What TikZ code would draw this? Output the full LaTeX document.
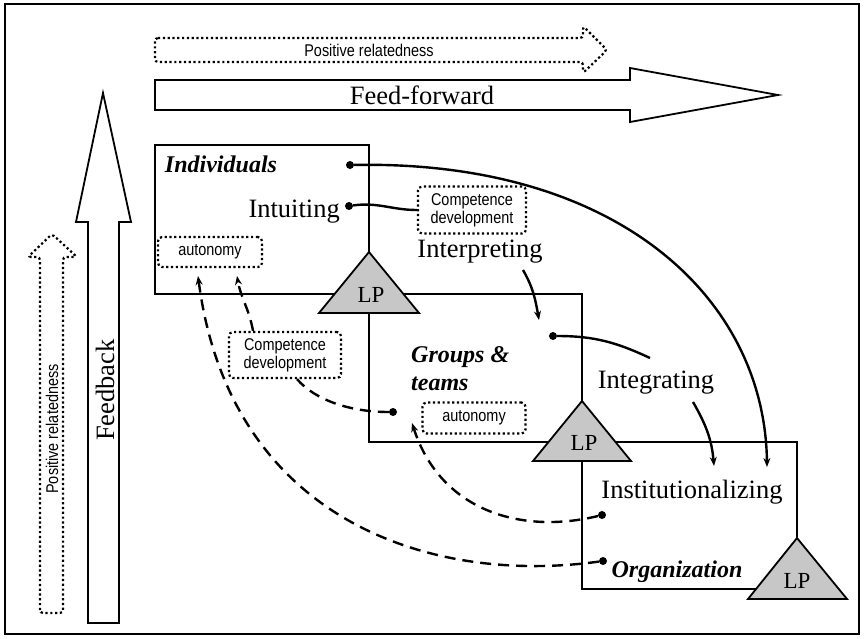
\documentclass[tikz,border=0pt]{standalone}
\usepackage{fontspec}
\setmainfont{Liberation Serif}
\setsansfont{Liberation Sans}
\newfontfamily\narrowsans[FakeStretch=0.85]{Liberation Sans}
\usetikzlibrary{arrows.meta}

\tikzset{
    lvlbox/.style={draw, line width=1.8pt},
    lptri/.style={draw, line width=1.8pt, fill=black!22, line join=miter},
    bigarrow/.style={draw, line width=1.8pt, line join=miter},
    dotarrow/.style={draw, line width=2.2pt, dash pattern=on 2.2pt off 2.6pt, rounded corners=3pt},
    dotbox/.style={draw, line width=2.2pt, dash pattern=on 2.2pt off 2.6pt, rounded corners=4pt,
        font=\narrowsans\fontsize{17}{18}\selectfont, align=center},
    dot/.style={circle, fill, minimum size=8pt},
    solidlink/.style={line width=2.4pt},
    dashlink/.style={line width=2.4pt, dash pattern=on 11pt off 7pt}
}

\begin{document}
\begin{tikzpicture}[
    x=1pt, y=-1pt,
    > = {Stealth[length=9pt, width=7pt]}, % arrow head style
    every node/.style={inner sep=0pt},
    serif/.style={font=\fontsize{26.5}{28}\selectfont},
    bolditem/.style={font=\fontsize{24}{26}\selectfont\bfseries\itshape},
    lptext/.style={font=\fontsize{23}{24}\selectfont},
    reltext/.style={font=\narrowsans\fontsize{17}{18}\selectfont}
]
\useasboundingbox (0,0) rectangle (864,638);
\draw[line width=2pt] (5,4) rectangle (859,634);

% Big arrows
\draw[dotarrow] (155,38) -- (583,38) -- (583,26) -- (607,50) -- (583,73) -- (583,62) -- (155,62) -- cycle;
\draw[bigarrow] (155,80) -- (630,80) -- (630,68) -- (778,95) -- (630,122) -- (630,110) -- (155,110) -- cycle;
\draw[bigarrow] (88,623) -- (88,222) -- (76,222) -- (103,93) -- (131,222) -- (119,222) -- (119,623) -- cycle;
\draw[dotarrow] (40,613) -- (40,257) -- (28,257) -- (52,234) -- (77,257) -- (63,257) -- (63,613) -- cycle;

\node[reltext] (posrelh) at (369,50) {Positive relatedness};
\node[serif, anchor=base] (feedfwd) at (422,104) {Feed-forward};
\node[serif, rotate=90] (feedback) at (105,390) {Feedback};
\node[reltext, rotate=90] (posrelv) at (52,429) {Positive relatedness};

% Levels
\draw[lvlbox] (155,145) rectangle (369,294);
\draw[lvlbox] (369,294) rectangle (582,442);
\draw[lvlbox] (582,442) rectangle (797,589);
\draw[lptri] (369,252) -- (419,313) -- (319,313) -- cycle;
\draw[lptri] (582,401) -- (631,461) -- (533,461) -- cycle;
\draw[lptri] (797,538) -- (847,599) -- (748,599) -- cycle;
\node[lptext, anchor=base] (lp1) at (371,302) {LP};
\node[lptext, anchor=base] (lp2) at (584,450) {LP};
\node[lptext, anchor=base] (lp3) at (797,588) {LP};

% Nodes
\node[bolditem, anchor=base] (indiv) at (221,172) {Individuals};
\node[serif, anchor=base east] (intuit) at (340,217) {Intuiting};
\node[serif, anchor=base] (interp) at (480,257) {Interpreting};
\node[bolditem, anchor=base west] (groups) at (411,362) {Groups \&};
\node[bolditem, anchor=base west] (teams) at (411,390) {teams};
\node[serif, anchor=base] (integr) at (656,388) {Integrating};
\node[serif, anchor=base] (instit) at (692,498) {Institutionalizing};
\node[bolditem, anchor=base] (org) at (677,577) {Organization};

\node[dotbox, minimum width=108pt, minimum height=47pt] (comp1) at (472,210) {Competence\\development};
\node[dotbox, minimum width=112pt, minimum height=46pt] (comp2) at (285,355) {Competence\\development};
\node[dotbox, minimum width=104pt, minimum height=30pt] (aut1) at (210,252) {autonomy};
\node[dotbox, minimum width=103pt, minimum height=31pt] (aut2) at (474,418) {autonomy};

\node[dot] (dindiv) at (350,165) {};
\node[dot] (dintuit) at (349,206) {};
\node[dot] (dgroups) at (553,336) {};
\node[dot] (dgroups2) at (393,412) {};
\node[dot] (dinstit) at (602,515) {};
\node[dot] (dorg) at (603,561) {};

\coordinate (interpstart) at (523,270);
\coordinate (interpend) at (539,320);
\coordinate (integrstart) at (650,358);
\coordinate (integrout) at (693,402);
\coordinate (instend1) at (714,466);
\coordinate (instend2) at (767,467);
\coordinate (aut1in1) at (198,276);
\coordinate (aut1in2) at (237,276);
\coordinate (aut2in) at (412,423);

% Edges
\draw[solidlink, ->] (dindiv) .. controls (620,160) and (765,300) .. (instend2);
\draw[solidlink] (dintuit) to[out=8, in=180] (comp1.west);
\draw[solidlink, ->] (interpstart) to[out=-60, in=100] (interpend);
\draw[solidlink] (dgroups) to[out=0, in=155] (integrstart);
\draw[solidlink, ->] (integrout) to[out=-60, in=95] (instend1);

\draw[dashlink, ->] (dinstit) .. controls (520,535) and (440,510) .. (aut2in);
\draw[dashlink, ->] (dorg) .. controls (430,585) and (230,520) .. (aut1in1);
\draw[dashlink] (dgroups2) .. controls (350,412) and (315,400) .. ([xshift=12pt]comp2.south);
\draw[dashlink, ->] ([xshift=-32pt]comp2.north) to[out=100, in=-80] (aut1in2);
\end{tikzpicture}
\end{document}
